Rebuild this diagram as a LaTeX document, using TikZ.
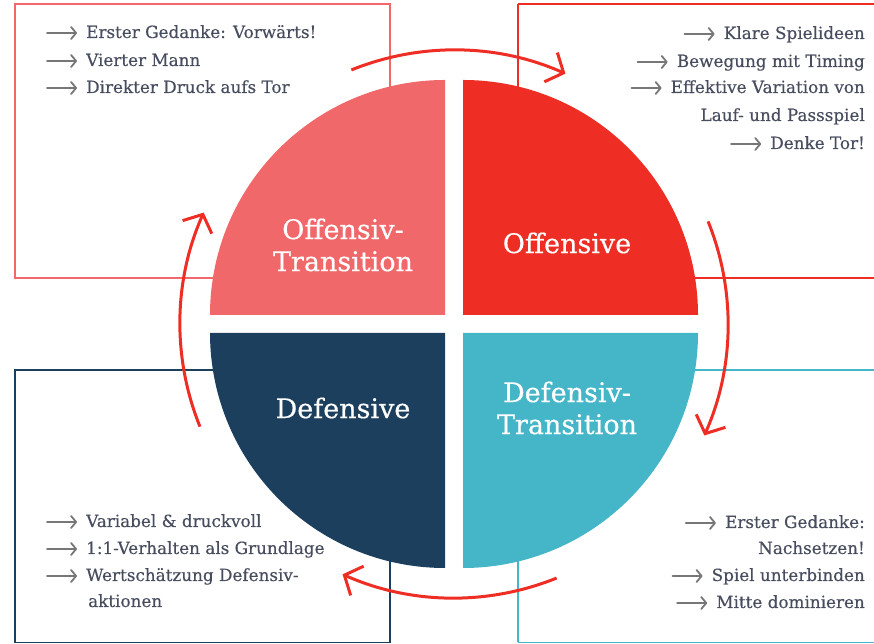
\documentclass[tikz,border=0pt]{standalone}
\usepackage{fontspec}
\setmainfont{DejaVu Serif}
\newfontfamily\panelfont{DejaVu Serif}[FakeBold=0.35]
\newfontfamily\titlefont{DejaVu Serif}[FakeBold=0.5]
\usetikzlibrary{arrows.meta}
\definecolor{pinkq}{HTML}{F0686A}
\definecolor{redq}{HTML}{EE2E24}
\definecolor{navyq}{HTML}{1D3F5E}
\definecolor{tealq}{HTML}{45B5C8}
\definecolor{txtgray}{HTML}{474D5E}
\definecolor{arrgray}{HTML}{777777}
\tikzset{
  frame/.style={line width=1.4pt},
  bodytext/.style={font=\panelfont\fontsize{16.8}{18}\selectfont, text=txtgray, inner sep=0pt},
  lefttext/.style={bodytext, anchor=base west},
  righttext/.style={bodytext, anchor=base east},
  quadtitle/.style={font=\titlefont\fontsize{27}{32}\selectfont, text=white, align=center, inner sep=0pt},
  bullet/.style={draw=arrgray, line width=1.8pt, line cap=round,
    -{Straight Barb[length=5pt,width=12pt,round]}},
  cyclearrow/.style={draw=redq, line width=3pt,
    -{Straight Barb[length=14pt,width=32pt]}},
}
\newcommand{\bul}[1]{\draw[bullet] ([xshift=-39pt,yshift=5pt]#1.base west) -- ([xshift=-9pt,yshift=5pt]#1.base west);}
\begin{document}
\begin{tikzpicture}[x=1pt,y=1pt]
\useasboundingbox (0,0) rectangle (874,644);

% framed text panels
\draw[frame, draw=pinkq] (15,640) rectangle (390,366);
\draw[frame, draw=redq] (518,640) -- (880,640) (518,640) -- (518,366) -- (880,366);
\draw[frame, draw=navyq] (15,1.5) rectangle (390,274);
\draw[frame, draw=tealq] (518,1.5) -- (880,1.5) (518,1.5) -- (518,274) -- (880,274);

% four quarter discs
\fill[pinkq] (445,329) -- ++(-235,0) arc[start angle=180,end angle=90,radius=235] -- cycle;
\fill[redq]  (463,329) -- ++(0,235) arc[start angle=90,end angle=0,radius=235] -- cycle;
\fill[tealq] (463,311) -- ++(235,0) arc[start angle=0,end angle=-90,radius=235] -- cycle;
\fill[navyq] (445,311) -- ++(0,-235) arc[start angle=270,end angle=180,radius=235] -- cycle;

\node[quadtitle] (ot) at (343,399) {Offensiv-\\Transition};
\node[quadtitle] (of) at (567,401) {Offensive};
\node[quadtitle] (df) at (343,236) {Defensive};
\node[quadtitle] (dt) at (567,236) {Defensiv-\\Transition};

% cycle arrows around the disc
\coordinate (ctr) at (454,320);
\draw[cyclearrow] ([shift={(112:274)}]ctr) arc[start angle=112,end angle=66,radius=274];
\draw[cyclearrow] ([shift={(22:274)}]ctr) arc[start angle=22,end angle=-24,radius=274];
\draw[cyclearrow] ([shift={(-68:274)}]ctr) arc[start angle=-68,end angle=-114,radius=274];
\draw[cyclearrow] ([shift={(202:274)}]ctr) arc[start angle=202,end angle=156,radius=274];

% top left
\node[lefttext] (a1) at (86,606) {Erster Gedanke: Vorwärts!};
\node[lefttext] (a2) at (86,578) {Vierter Mann};
\node[lefttext] (a3) at (86,551) {Direkter Druck aufs Tor};
\bul{a1}\bul{a2}\bul{a3}

% top right
\node[righttext] (b1) at (865,605) {Klare Spielideen};
\node[righttext] (b2) at (865,577) {Bewegung mit Timing};
\node[righttext] (b3) at (865,551) {Effektive Variation von};
\node[righttext] (b4) at (865,523) {Lauf- und Passspiel};
\node[righttext] (b5) at (865,495) {Denke Tor!};
\bul{b1}\bul{b2}\bul{b3}\bul{b5}

% bottom left
\node[lefttext] (c1) at (86,117) {Variabel \& druckvoll};
\node[lefttext] (c2) at (86,90) {1:1-Verhalten als Grundlage};
\node[lefttext] (c3) at (86,63) {Wertschätzung Defensiv-};
\node[lefttext] (c4) at (88,37) {aktionen};
\bul{c1}\bul{c2}\bul{c3}

% bottom right
\node[righttext] (d1) at (865,116) {Erster Gedanke:};
\node[righttext] (d2) at (865,90) {Nachsetzen!};
\node[righttext] (d3) at (865,63) {Spiel unterbinden};
\node[righttext] (d4) at (865,36) {Mitte dominieren};
\bul{d1}\bul{d3}\bul{d4}
\end{tikzpicture}
\end{document}
